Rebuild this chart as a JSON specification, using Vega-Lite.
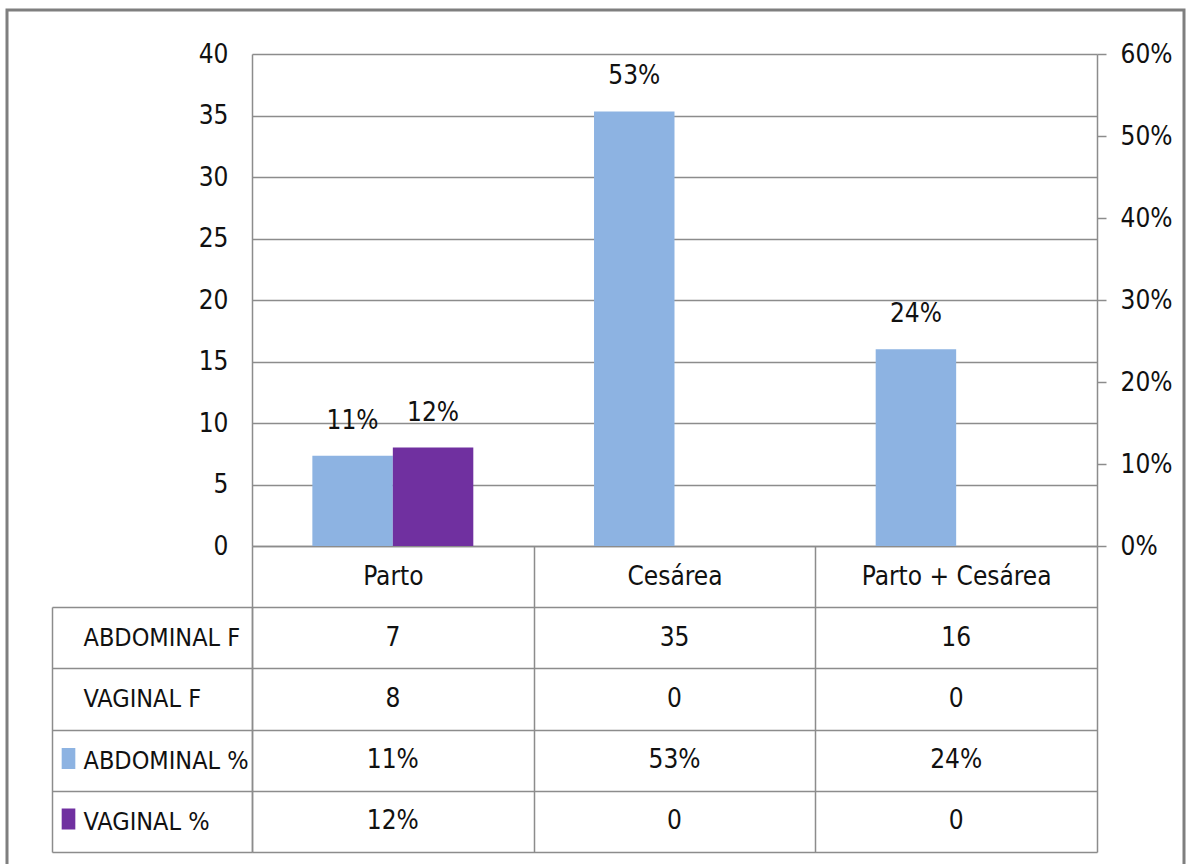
{
  "$schema": "https://vega.github.io/schema/vega-lite/v6.json",
  "autosize": {"type": "none"},
  "width": 1177,
  "height": 858,
  "padding": {"left": 7, "top": 10, "right": 2, "bottom": 0},
  "background": "white",
  "config": {
    "font": "DejaVu Sans Condensed, sans-serif",
    "view": {"stroke": "#7f7f7f", "strokeWidth": 3},
    "axis": {
      "labelFontSize": 26,
      "labelColor": "#111111",
      "labelLimit": 0,
      "domainColor": "#8c8c8c",
      "tickColor": "#8c8c8c",
      "gridColor": "#8c8c8c",
      "domainWidth": 1.5,
      "tickWidth": 1.5,
      "gridWidth": 1.5,
      "labelFlush": false,
      "labelOverlap": false,
      "title": null
    },
    "text": {"fontSize": 26, "color": "#111111"}
  },
  "datasets": {
    "partos": [
      {"categoria": "Parto", "serie": "ABDOMINAL %", "fila_f": "ABDOMINAL F", "f": 7, "pct": 0.11},
      {"categoria": "Parto", "serie": "VAGINAL %", "fila_f": "VAGINAL F", "f": 8, "pct": 0.12},
      {"categoria": "Cesárea", "serie": "ABDOMINAL %", "fila_f": "ABDOMINAL F", "f": 35, "pct": 0.53},
      {"categoria": "Cesárea", "serie": "VAGINAL %", "fila_f": "VAGINAL F", "f": 0, "pct": 0},
      {"categoria": "Parto + Cesárea", "serie": "ABDOMINAL %", "fila_f": "ABDOMINAL F", "f": 16, "pct": 0.24},
      {"categoria": "Parto + Cesárea", "serie": "VAGINAL %", "fila_f": "VAGINAL F", "f": 0, "pct": 0}
    ]
  },
  "data": {"name": "partos"},
  "encoding": {
    "x": {
      "field": "categoria",
      "type": "nominal",
      "sort": ["Parto", "Cesárea", "Parto + Cesárea"],
      "scale": {"range": [245, 1090], "paddingInner": 0, "paddingOuter": 0},
      "axis": {
        "orient": "bottom",
        "offset": -322,
        "labelAngle": 0,
        "labelLimit": 0,
        "domain": true,
        "ticks": true,
        "tickBand": "extent",
        "tickSize": 306,
        "labelPadding": -276,
        "labelBaseline": "middle",
        "grid": false
      }
    }
  },
  "layer": [
    {
      "encoding": {
        "xOffset": {
          "field": "serie",
          "type": "nominal",
          "sort": ["ABDOMINAL %", "VAGINAL %"],
          "scale": {"paddingInner": 0, "paddingOuter": 0.75}
        },
        "y": {
          "field": "pct",
          "type": "quantitative",
          "scale": {"domain": [0, 0.6], "range": [536, 44], "nice": false},
          "axis": {
            "orient": "right",
            "offset": -87,
            "values": [0, 0.1, 0.2, 0.3, 0.4, 0.5, 0.6],
            "format": ".0%",
            "grid": false,
            "ticks": true,
            "tickSize": 9,
            "labelPadding": 14,
            "labelAlign": "left",
            "domain": true
          }
        }
      },
      "layer": [
        {
          "mark": {"type": "bar"},
          "encoding": {
            "color": {
              "field": "serie",
              "type": "nominal",
              "scale": {"domain": ["ABDOMINAL %", "VAGINAL %"], "range": ["#8db3e2", "#7030a0"]},
              "legend": {
                "orient": "none",
                "legendX": 51,
                "legendY": 738,
                "title": null,
                "padding": 0,
                "direction": "vertical",
                "symbolType": "M-0.65,-1H0.65V1H-0.65Z",
                "symbolSize": 441,
                "symbolStrokeWidth": 0,
                "symbolOpacity": 1,
                "rowPadding": 39.5,
                "labelExpr": "''",
                "labelFontSize": 1
              }
            }
          }
        },
        {
          "transform": [{"filter": "datum.pct > 0"}],
          "mark": {"type": "text", "dy": -27, "baseline": "alphabetic"},
          "encoding": {"text": {"field": "pct", "type": "quantitative", "format": ".0%"}}
        }
      ]
    },
    {
      "mark": {"type": "bar", "opacity": 0},
      "encoding": {
        "y": {
          "field": "f",
          "type": "quantitative",
          "scale": {"domain": [0, 40], "range": [536, 44], "nice": false},
          "axis": {
            "orient": "left",
            "offset": -245,
            "values": [0, 5, 10, 15, 20, 25, 30, 35, 40],
            "grid": true,
            "ticks": false,
            "labelPadding": 24,
            "domain": true
          }
        }
      }
    },
    {
      "layer": [
        {
          "mark": {"type": "text", "baseline": "middle"},
          "encoding": {
            "y": {
              "field": "fila_f",
              "type": "nominal",
              "scale": {"domain": ["ABDOMINAL F", "VAGINAL F", "ABDOMINAL %", "VAGINAL %"], "range": [597, 842], "paddingInner": 0, "paddingOuter": 0},
              "axis": {
                "orient": "left",
                "offset": -245,
                "tickBand": "extent",
                "ticks": true,
                "tickSize": 200,
                "grid": true,
                "domain": true,
                "labelAlign": "left",
                "labelPadding": -31,
                "labelBaseline": "middle",
                "labelFontSize": 25
              }
            },
            "text": {"field": "f", "type": "quantitative", "format": "d"}
          }
        },
        {
          "mark": {"type": "text", "baseline": "middle"},
          "encoding": {
            "y": {
              "field": "serie",
              "type": "nominal",
              "scale": {"domain": ["ABDOMINAL F", "VAGINAL F", "ABDOMINAL %", "VAGINAL %"], "range": [597, 842], "paddingInner": 0, "paddingOuter": 0},
              "axis": {
                "orient": "left",
                "offset": -245,
                "tickBand": "extent",
                "ticks": true,
                "tickSize": 200,
                "grid": true,
                "domain": true,
                "labelAlign": "left",
                "labelPadding": -31,
                "labelBaseline": "middle",
                "labelFontSize": 25
              }
            },
            "text": {
              "condition": {"test": "datum.pct === 0", "value": "0"},
              "field": "pct",
              "type": "quantitative",
              "format": ".0%"
            }
          }
        }
      ]
    },
    {
      "mark": {"type": "text", "opacity": 0},
      "encoding": {
        "y": {
          "field": "fila_f",
          "type": "nominal",
          "scale": {"domain": ["ABDOMINAL F", "VAGINAL F", "ABDOMINAL %", "VAGINAL %"], "range": [597, 842], "paddingInner": 0, "paddingOuter": 0},
          "axis": {"orient": "left", "offset": -45, "domain": true, "ticks": false, "labels": false, "grid": false}
        },
        "text": {"field": "f", "type": "quantitative"}
      }
    }
  ],
  "resolve": {"scale": {"y": "independent"}, "axis": {"y": "independent"}}
}
